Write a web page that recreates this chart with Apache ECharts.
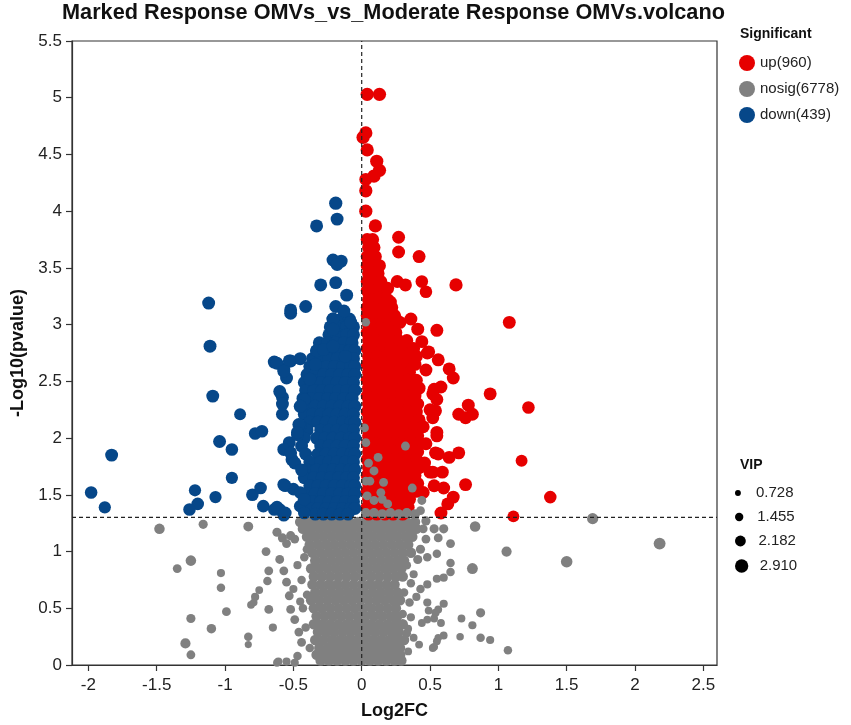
<!DOCTYPE html>
<html>
<head>
<meta charset="utf-8">
<script src="https://cdn.jsdelivr.net/npm/echarts@6/dist/echarts.min.js"></script>
<style>
  html, body { margin: 0; background: #fff; }
  #chart { width: 851px; height: 725px; }
</style>
</head>
<body>
<div id="chart"></div>
<script>
// [log2FC, -log10(p), VIP] single points
const upPts = [
  [0.04,5.03,2.9],[0.13,5.03,2.9],[0.03,4.69,2.9],[0.01,4.65,2.9],[0.04,4.54,2.9],[0.11,4.44,2.9],
  [0.13,4.36,2.9],[0.09,4.31,2.9],[0.03,4.28,2.8],[0.03,4.18,2.9],[0.03,4.00,2.9],[0.10,3.87,2.9],
  [0.27,3.77,2.8],[0.27,3.64,2.8],[0.42,3.60,2.8],[0.26,3.38,2.8],[0.32,3.35,2.8],[0.44,3.38,2.7],
  [0.47,3.29,2.7],[0.69,3.35,2.9],[0.19,3.32,2.8],[0.21,3.20,2.8],[1.08,3.02,2.8],[0.28,3.02,2.8],
  [0.36,3.05,2.8],[0.41,2.96,2.8],[0.55,2.95,2.8],[0.30,2.84,2.7],[0.49,2.76,2.8],[0.56,2.69,2.8],
  [0.64,2.61,2.8],[0.67,2.53,2.8],[0.58,2.45,2.8],[0.52,2.39,2.8],[0.55,2.34,2.8],[0.94,2.39,2.8],
  [1.22,2.27,2.7],[0.71,2.21,2.8],[0.78,2.29,2.8],[0.81,2.21,2.8],[0.76,2.18,2.8],[0.54,2.24,2.8],
  [0.52,2.18,2.8],[0.55,2.02,2.8],[0.56,1.86,2.8],[0.64,1.83,2.8],[0.71,1.87,2.8],[1.17,1.80,2.5],
  [0.52,1.70,2.8],[0.59,1.70,2.8],[0.76,1.59,2.8],[0.60,1.56,2.8],[0.67,1.48,2.8],[0.63,1.42,2.8],
  [1.38,1.48,2.7],[0.58,1.34,2.8],[1.11,1.31,2.5],[0.48,2.75,2.8],[0.53,2.43,2.8],[0.50,2.25,2.8],
  [0.55,2.05,2.8],[0.54,1.87,2.8],[0.50,1.70,2.8],[0.53,1.58,2.8],[0.25,3.05,2.8],[0.16,3.13,2.8],
  [0.45,2.10,2.8],[0.47,1.95,2.8],[0.46,1.78,2.8],[0.45,1.52,2.8],[0.47,2.60,2.8],[0.44,2.85,2.8]
];
// rows of the dense red core: [-log10(p), VIP, [log2FC ...]]
const upRows = [
  [3.75,2.8,[0.04,0.08]],[3.68,2.8,[0.05,0.09]],[3.60,2.8,[0.04,0.10]],[3.52,2.8,[0.04,0.09,0.13]],
  [3.45,2.8,[0.05,0.08,0.12]],[3.38,2.8,[0.04,0.09,0.14]],[3.30,2.8,[0.04,0.08,0.12,0.17]],
  [3.22,2.8,[0.05,0.09,0.14,0.19]],[3.15,2.8,[0.04,0.08,0.12,0.16,0.22]],
  [3.08,2.8,[0.04,0.09,0.14,0.19,0.24]],[3.00,2.8,[0.05,0.10,0.15,0.20,0.23]],
  [2.93,2.8,[0.04,0.09,0.14,0.19,0.25]],[2.86,2.8,[0.05,0.10,0.16,0.22,0.27,0.33]],
  [2.79,2.8,[0.04,0.09,0.15,0.21,0.27,0.33,0.38]],[2.72,2.8,[0.05,0.11,0.17,0.23,0.29,0.35,0.40]],
  [2.65,2.8,[0.04,0.10,0.16,0.22,0.28,0.34,0.39]],[2.58,2.8,[0.05,0.11,0.17,0.23,0.29,0.35]],
  [2.51,2.8,[0.04,0.10,0.16,0.22,0.28,0.34,0.40]],[2.44,2.8,[0.05,0.11,0.17,0.23,0.29,0.35,0.42]],
  [2.37,2.8,[0.04,0.10,0.16,0.22,0.28,0.34,0.39]],[2.30,2.8,[0.05,0.11,0.17,0.23,0.29,0.35,0.41]],
  [2.23,2.8,[0.04,0.10,0.16,0.22,0.28,0.34,0.40]],[2.16,2.8,[0.05,0.11,0.17,0.23,0.29,0.35,0.42]],
  [2.09,2.8,[0.04,0.10,0.16,0.22,0.28,0.34,0.39]],[2.02,2.8,[0.05,0.11,0.17,0.23,0.29,0.35,0.41]],
  [1.95,2.8,[0.04,0.10,0.16,0.22,0.28,0.34,0.40]],[1.88,2.8,[0.05,0.11,0.17,0.23,0.29,0.35,0.41]],
  [1.81,2.8,[0.04,0.10,0.16,0.22,0.28,0.34,0.40]],[1.74,2.8,[0.05,0.11,0.17,0.23,0.29,0.35,0.42]],
  [1.67,2.8,[0.04,0.10,0.16,0.22,0.28,0.34,0.39]],[1.60,2.8,[0.05,0.11,0.17,0.23,0.29,0.35,0.41]],
  [1.53,2.8,[0.04,0.10,0.16,0.22,0.28,0.34,0.40]],[1.46,2.8,[0.05,0.11,0.17,0.23,0.29,0.35]],
  [1.39,2.8,[0.04,0.10,0.16,0.22,0.28,0.34]],[1.33,2.8,[0.05,0.11,0.17,0.23,0.30]]
];

const downPts = [
  [-1.12,3.19,2.8],[-1.11,2.81,2.8],[-1.09,2.37,2.8],[-0.89,2.21,2.5],[-0.78,2.04,2.7],[-0.73,2.06,2.7],
  [-1.04,1.97,2.8],[-0.95,1.90,2.7],[-1.83,1.85,2.8],[-0.95,1.65,2.6],[-1.98,1.52,2.7],[-1.88,1.39,2.6],
  [-1.22,1.54,2.6],[-1.20,1.42,2.7],[-1.26,1.37,2.7],[-1.07,1.48,2.6],[-0.80,1.50,2.7],[-0.74,1.56,2.7],
  [-0.72,1.40,2.7],[-0.64,1.37,2.7],[-0.60,1.37,2.7],[-0.57,1.32,2.7],[-0.56,1.58,2.7],[-0.50,1.55,2.7],
  [-0.45,1.52,2.7],[-0.45,1.40,2.7],[-0.42,1.34,2.7],[-0.53,1.96,2.8],[-0.57,1.90,2.8],[-0.51,1.81,2.8],
  [-0.47,2.03,2.8],[-0.45,2.11,2.8],[-0.58,2.21,2.8],[-0.58,2.36,2.8],[-0.60,2.41,2.8],[-0.64,2.67,2.8],
  [-0.57,2.61,2.8],[-0.55,2.53,2.8],[-0.52,2.68,2.8],[-0.45,2.70,2.8],[-0.38,2.52,2.8],[-0.33,2.77,2.8],
  [-0.34,2.65,2.8],[-0.42,2.34,2.8],[-0.45,2.28,2.8],[-0.30,3.35,2.8],[-0.19,3.37,2.8],[-0.41,3.16,2.8],
  [-0.52,3.10,2.8],[-0.11,3.26,2.8],[-0.19,3.16,2.8],[-0.13,3.12,2.8],[-0.21,3.05,2.8],[-0.21,2.96,2.8],
  [-0.08,3.02,2.8],[-0.28,2.78,2.8],[-0.21,2.81,2.8],[-0.12,2.72,2.8],[-0.19,4.07,2.9],[-0.18,3.93,2.8],
  [-0.33,3.87,2.8],[-0.21,3.57,2.8],[-0.15,3.56,2.8],[-0.18,3.53,2.8],[-0.62,2.66,2.8],[-0.53,2.68,2.8],
  [-0.57,2.59,2.8],[-0.58,2.30,2.8],[-0.46,2.12,2.8],[-0.47,2.05,2.8],[-0.52,1.87,2.8],[-0.49,1.78,2.8],
  [-0.44,1.72,2.8],[-0.57,1.59,2.8],[-0.62,1.39,2.8],[-0.56,1.34,2.8],[-0.42,1.46,2.8],[-0.52,3.13,2.8]
];
const downRows = [
  [3.05,2.8,[-0.21,-0.15,-0.09]],[2.98,2.8,[-0.23,-0.17,-0.11,-0.06]],
  [2.91,2.8,[-0.24,-0.17,-0.11,-0.06]],[2.84,2.8,[-0.31,-0.25,-0.19,-0.13,-0.07]],
  [2.77,2.8,[-0.33,-0.27,-0.21,-0.15,-0.09,-0.05]],[2.70,2.8,[-0.36,-0.30,-0.24,-0.18,-0.12,-0.06]],
  [2.63,2.8,[-0.38,-0.32,-0.26,-0.20,-0.14,-0.08,-0.05]],[2.56,2.8,[-0.40,-0.34,-0.28,-0.22,-0.16,-0.10,-0.05]],
  [2.49,2.8,[-0.42,-0.36,-0.30,-0.24,-0.18,-0.12,-0.06]],[2.42,2.8,[-0.41,-0.35,-0.29,-0.23,-0.17,-0.11,-0.05]],
  [2.35,2.8,[-0.43,-0.37,-0.31,-0.25,-0.19,-0.13,-0.07]],[2.28,2.8,[-0.40,-0.34,-0.28,-0.22,-0.16,-0.10,-0.05]],
  [2.21,2.8,[-0.42,-0.36,-0.30,-0.24,-0.18,-0.12,-0.06]],[2.14,2.8,[-0.38,-0.32,-0.26,-0.20,-0.14,-0.08,-0.05]],
  [2.07,2.8,[-0.40,-0.30,-0.24,-0.18,-0.12,-0.06]],[2.00,2.8,[-0.42,-0.33,-0.27,-0.21,-0.15,-0.09,-0.05]],
  [1.93,2.8,[-0.44,-0.30,-0.24,-0.18,-0.12,-0.06]],[1.86,2.8,[-0.41,-0.32,-0.26,-0.20,-0.14,-0.08,-0.05]],
  [1.79,2.8,[-0.38,-0.30,-0.24,-0.18,-0.12,-0.06]],[1.72,2.8,[-0.40,-0.33,-0.27,-0.21,-0.15,-0.09,-0.05]],
  [1.65,2.8,[-0.42,-0.35,-0.29,-0.23,-0.17,-0.11,-0.06]],[1.58,2.8,[-0.38,-0.32,-0.26,-0.20,-0.14,-0.08,-0.05]],
  [1.51,2.8,[-0.40,-0.34,-0.28,-0.22,-0.16,-0.10,-0.05]],[1.44,2.8,[-0.36,-0.30,-0.24,-0.18,-0.12,-0.06]],
  [1.38,2.8,[-0.38,-0.32,-0.26,-0.20,-0.14,-0.08,-0.05]],[1.33,2.8,[-0.34,-0.28,-0.22,-0.16,-0.10]]
];

const nosigPts = [
  [-1.48,1.20,2.1],[-1.16,1.24,1.7],[-0.83,1.22,1.9],[-1.25,0.92,2.1],[-1.35,0.85,1.6],[-1.03,0.81,1.4],
  [-1.03,0.68,1.5],[-0.99,0.47,1.6],[-1.25,0.41,1.7],[-1.10,0.32,1.8],[-1.29,0.19,2.0],[-1.25,0.09,1.6],
  [-0.83,0.25,1.5],[-0.83,0.18,1.1],[-0.75,0.66,1.3],[-0.78,0.60,1.4],[-0.81,0.53,1.3],[-0.79,0.55,1.2],
  [-0.68,0.49,1.6],[-0.65,0.33,1.4],[-0.70,1.00,1.6],[-0.68,0.83,1.6],[-0.69,0.74,1.5],[-0.62,1.17,1.7],
  [-0.58,1.12,1.7],[-0.52,1.14,1.7],[-0.61,0.03,1.4],[-0.55,0.03,1.4],[-0.49,0.02,1.4],[-0.60,0.93,1.6],
  [-0.57,0.83,1.6],[-0.55,0.73,1.6],[-0.53,0.61,1.6],[-0.52,0.49,1.6],[-0.49,0.40,1.6],[-0.46,0.29,1.6],
  [-0.44,0.20,1.6],[-0.47,0.08,1.5],[-0.62,0.02,1.3],[-0.55,1.07,1.6],[-0.49,1.11,1.6],[-0.40,1.02,1.6],
  [-0.42,0.95,1.5],[-0.44,0.75,1.5],[-0.40,0.62,1.5],[-0.43,0.50,1.5],[-0.41,0.33,1.5],[-0.38,0.15,1.5],
  [-0.47,0.88,1.4],[-0.50,0.67,1.4],[-0.45,0.56,1.4],
  [0.83,1.22,2.1],[0.81,0.85,2.2],[0.60,1.20,1.7],[0.53,1.20,1.7],[0.56,1.12,1.6],[0.47,1.11,1.6],
  [0.65,1.07,1.6],[0.43,1.02,1.7],[0.41,0.93,1.7],[0.48,0.95,1.5],[0.55,0.98,1.5],[0.65,0.90,1.5],
  [0.65,0.82,1.5],[0.60,0.77,1.4],[0.55,0.76,1.4],[0.48,0.71,1.4],[0.43,0.67,1.5],[0.48,0.55,1.4],
  [0.60,0.54,1.4],[0.56,0.49,1.3],[0.49,0.48,1.3],[0.48,0.40,1.3],[0.53,0.41,1.3],[0.73,0.41,1.3],
  [0.81,0.35,1.4],[0.87,0.46,1.7],[0.72,0.25,1.2],[0.87,0.24,1.5],[0.94,0.22,1.4],[0.55,0.21,1.3],
  [0.60,0.26,1.3],[0.53,0.16,1.3],[1.07,0.13,1.5],[0.54,0.46,1.4],[0.58,0.37,1.3],[0.56,0.24,1.2],
  [0.52,0.15,1.3],[0.42,0.18,1.3],[0.44,0.37,1.3],[0.34,0.32,1.3],[0.38,0.24,1.3],[0.33,0.88,1.5],
  [0.36,0.72,1.5],[0.31,0.64,1.5],[0.35,0.55,1.5],[0.30,0.45,1.5],[0.33,0.28,1.5],[0.29,0.09,1.4],
  [0.38,0.80,1.4],[0.40,0.60,1.4],[0.36,0.42,1.4],[0.34,0.12,1.3],[1.69,1.29,2.3],[2.18,1.07,2.5],
  [1.50,0.91,2.4],[1.06,1.00,2.0],[0.45,1.20,1.6],[0.47,1.27,1.7]
];
const nosigRows = [
  [1.26,2.1,[-0.45,-0.39,-0.33,-0.27,-0.21,-0.15,-0.09,-0.03,0.03,0.09,0.15,0.21,0.27,0.33,0.39]],
  [1.20,2.1,[-0.43,-0.37,-0.31,-0.25,-0.19,-0.13,-0.07,-0.01,0.05,0.11,0.17,0.23,0.29,0.35,0.40]],
  [1.13,2.1,[-0.40,-0.34,-0.28,-0.22,-0.16,-0.10,-0.04,0.02,0.08,0.14,0.20,0.26,0.32,0.37]],
  [1.06,2.1,[-0.38,-0.32,-0.26,-0.20,-0.14,-0.08,-0.02,0.04,0.10,0.16,0.22,0.28,0.34]],
  [0.99,2.1,[-0.36,-0.30,-0.24,-0.18,-0.12,-0.06,0,0.06,0.12,0.18,0.24,0.30,0.36]],
  [0.92,2.1,[-0.34,-0.28,-0.22,-0.16,-0.10,-0.04,0.02,0.08,0.14,0.20,0.26,0.31]],
  [0.85,2.1,[-0.37,-0.31,-0.25,-0.19,-0.13,-0.07,-0.01,0.05,0.11,0.17,0.23,0.29]],
  [0.78,2.1,[-0.35,-0.29,-0.23,-0.17,-0.11,-0.05,0.01,0.07,0.13,0.19,0.25,0.30]],
  [0.71,2.1,[-0.36,-0.30,-0.24,-0.18,-0.12,-0.06,0,0.06,0.12,0.18,0.24]],
  [0.64,2.1,[-0.34,-0.28,-0.22,-0.16,-0.10,-0.04,0.02,0.08,0.14,0.20,0.26]],
  [0.57,2.1,[-0.37,-0.31,-0.25,-0.19,-0.13,-0.07,-0.01,0.05,0.11,0.17,0.23,0.28]],
  [0.50,2.1,[-0.35,-0.29,-0.23,-0.17,-0.11,-0.05,0.01,0.07,0.13,0.19,0.25]],
  [0.43,2.1,[-0.33,-0.27,-0.21,-0.15,-0.09,-0.03,0.03,0.09,0.15,0.21,0.26]],
  [0.36,2.1,[-0.35,-0.29,-0.23,-0.17,-0.11,-0.05,0.01,0.07,0.13,0.19,0.25,0.30]],
  [0.29,2.1,[-0.32,-0.26,-0.20,-0.14,-0.08,-0.02,0.04,0.10,0.16,0.22,0.27]],
  [0.22,2.1,[-0.34,-0.28,-0.22,-0.16,-0.10,-0.04,0.02,0.08,0.14,0.20,0.26,0.31]],
  [0.15,2.1,[-0.31,-0.25,-0.19,-0.13,-0.07,-0.01,0.05,0.11,0.17,0.23,0.28]],
  [0.09,2.1,[-0.33,-0.27,-0.21,-0.15,-0.09,-0.03,0.03,0.09,0.15,0.21,0.27]],
  [0.04,2.1,[-0.30,-0.24,-0.18,-0.12,-0.06,0,0.06,0.12,0.18,0.24,0.29]]
];
// grey points that sit on top of the red cloud
const nosigTopPts = [
  [0.03,3.02,1.5],[0.02,2.09,1.6],[0.03,1.96,1.6],[0.12,1.83,1.6],[0.32,1.93,1.6],[0.05,1.78,1.6],
  [0.09,1.71,1.6],[0.03,1.62,1.6],[0.06,1.62,1.6],[0.16,1.61,1.6],[0.37,1.56,1.6],[0.04,1.49,1.6],
  [0.14,1.52,1.6],[0.15,1.46,1.6],[0.09,1.45,1.6],[0.44,1.45,1.6],[0.19,1.42,1.6],[0.43,1.36,1.6],
  [0.03,1.34,1.9],[0.09,1.34,1.9],[0.15,1.33,1.9],[0.21,1.34,1.9],[0.27,1.33,1.9],[0.33,1.34,1.9],[0.39,1.33,1.9]
];

const xTicks = [-2, -1.5, -1, -0.5, 0, 0.5, 1, 1.5, 2, 2.5];
const xRange = [-2.12, 2.6];
const yRange = [0, 5.5];
const vipLevels = ['0.728', '1.455', '2.182', '2.910'];
const groupNames = ['up(960)', 'nosig(6778)', 'down(439)'];
const pCut = 1.301;   // -log10(0.05)
const fcCut = 0;

const colors = { up: '#e60000', nosig: '#808080', down: '#064789' };
const font = 'Liberation Sans, Arial, sans-serif';

function expand(rows) {
  const out = [];
  rows.forEach(function (r) {
    r[2].forEach(function (x) { out.push([x, r[0], r[1]]); });
  });
  return out;
}
function vipSize(v) { return 3.4 + 3.4 * v; }

const chart = echarts.init(document.getElementById('chart'));

const scatterBase = {
  type: 'scatter',
  symbol: 'circle',
  z: 2,
  symbolSize: function (v) { return vipSize(v[2]); },
  emphasis: { disabled: true },
  silent: true
};
const cutLine = {
  type: 'line', z: 10, silent: true, symbol: 'none', animation: false,
  lineStyle: { type: [4, 3], color: '#222', width: 1.2 },
  emphasis: { disabled: true }
};

const vipSeries = vipLevels.map(function (name) {
  return { type: 'scatter', name: name, data: [], itemStyle: { color: '#000', opacity: 1 } };
});
const vipLegends = vipLevels.map(function (name, i) {
  const centers = [493, 517, 541, 566];
  return {
    data: [name], left: 735, top: centers[i] - 8, padding: 0,
    itemWidth: 26, itemHeight: vipSize(parseFloat(name)), icon: 'circle',
    selectedMode: false,
    textStyle: { fontSize: 15, color: '#222', fontFamily: font, lineHeight: 16 }
  };
});

chart.setOption({
  backgroundColor: '#fff',
  animation: false,
  title: [
    { text: 'Marked Response OMVs_vs_Moderate Response OMVs.volcano', left: 62, top: 2, padding: 0,
      textStyle: { fontSize: 21.7, fontWeight: 'bold', color: '#111', fontFamily: font } },
    { text: 'Significant', left: 740, top: 27, padding: 0,
      textStyle: { fontSize: 14, fontWeight: 'bold', color: '#111', fontFamily: font } },
    { text: 'VIP', left: 740, top: 458, padding: 0,
      textStyle: { fontSize: 14, fontWeight: 'bold', color: '#111', fontFamily: font } }
  ],
  legend: [{
    data: groupNames, orient: 'vertical', left: 739, top: 55, padding: 0,
    itemWidth: 16, itemHeight: 16, itemGap: 10, icon: 'circle', selectedMode: false,
    textStyle: { fontSize: 15, color: '#222', fontFamily: font, lineHeight: 16 }
  }].concat(vipLegends),
  grid: { left: 72, right: 134, top: 41, bottom: 59, show: true, borderColor: '#333', borderWidth: 1.2 },
  xAxis: {
    type: 'value', min: xRange[0], max: xRange[1],
    name: 'Log2FC', nameLocation: 'middle', nameGap: 37,
    nameTextStyle: { fontSize: 18, fontWeight: 'bold', color: '#111', fontFamily: font },
    axisLine: { onZero: false, lineStyle: { color: '#333', width: 1.2 } },
    axisTick: { customValues: xTicks, length: 6, lineStyle: { color: '#333', width: 1.2 } },
    axisLabel: { customValues: xTicks, margin: 12, fontSize: 17, color: '#222', fontFamily: font },
    splitLine: { show: false }
  },
  yAxis: {
    type: 'value', min: yRange[0], max: yRange[1], interval: 0.5,
    name: '-Log10(pvalue)', nameLocation: 'middle', nameGap: 44,
    nameTextStyle: { fontSize: 18, fontWeight: 'bold', color: '#111', fontFamily: font },
    axisLine: { show: true, onZero: false, lineStyle: { color: '#333', width: 1.2 } },
    axisTick: { show: true, length: 6, lineStyle: { color: '#333', width: 1.2 } },
    axisLabel: { margin: 10, fontSize: 17, color: '#222', fontFamily: font },
    splitLine: { show: false }
  },
  series: [
    Object.assign({}, scatterBase, { name: groupNames[1], itemStyle: { color: colors.nosig, opacity: 1 },
      data: expand(nosigRows).concat(nosigPts) }),
    Object.assign({}, scatterBase, { name: groupNames[2], itemStyle: { color: colors.down, opacity: 1 },
      data: expand(downRows).concat(downPts) }),
    Object.assign({}, scatterBase, { name: groupNames[0], itemStyle: { color: colors.up, opacity: 1 },
      data: expand(upRows).concat(upPts) }),
    Object.assign({}, scatterBase, { name: groupNames[1], itemStyle: { color: colors.nosig, opacity: 1 },
      data: nosigTopPts }),
    Object.assign({}, cutLine, { data: [[fcCut, yRange[0]], [fcCut, yRange[1]]] }),
    Object.assign({}, cutLine, { data: [[xRange[0], pCut], [xRange[1], pCut]] })
  ].concat(vipSeries)
});
</script>
</body>
</html>
